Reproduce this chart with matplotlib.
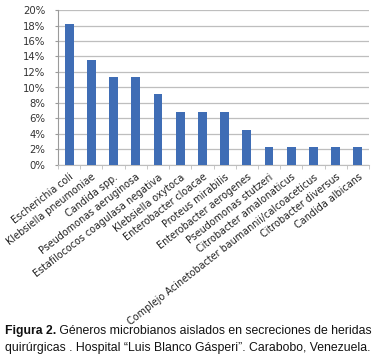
import matplotlib
matplotlib.use("Agg")
import matplotlib.pyplot as plt
from matplotlib.ticker import FuncFormatter, FixedLocator

categories = ["Escherichia coli", "Klebsiella pneumoniae", "Candida spp.",
              "Pseudomonas aeruginosa", "Estafilococos coagulasa negativa",
              "Klebsiella oxytoca", "Enterobacter cloacae", "Proteus mirabilis",
              "Enterobacter aerogenes", "Pseudomonas stutzeri",
              "Citrobacter amalonaticus",
              "Complejo Acinetobacter baumannii/calcoaceticus",
              "Citrobacter diversus", "Candida albicans"]
values = [18.2, 13.6, 11.4, 11.4, 9.1, 6.8, 6.8, 6.8, 4.5, 2.3, 2.3, 2.3, 2.3, 2.3]
yticks = [0, 2, 4, 6, 8, 10, 12, 14, 16, 18, 20]

plt.rcParams['font.family'] = ['DejaVu Sans']
W, H = 379, 359
fig = plt.figure(figsize=(W/100, H/100), dpi=100)
ax = fig.add_axes([58/W, 1-165/H, (369-58)/W, (165-10)/H])

x = list(range(len(categories)))
ax.bar(x, values, width=0.4, color='#3F6DB5', zorder=3)
ax.set_xlim(-0.5, len(categories)-0.5)
ax.set_ylim(0, 20)
ax.set_yticks(yticks)
ax.yaxis.set_major_formatter(FuncFormatter(lambda v, p: f"{int(v)}%"))
ax.grid(axis='y', color='#BEBEBE', linewidth=0.9, zorder=0)
for s in ['top', 'right']:
    ax.spines[s].set_visible(False)
ax.spines['left'].set_color('#9A9A9A')
ax.spines['bottom'].set_color('#BEBEBE')
ax.tick_params(axis='y', length=2.5, color='#9A9A9A', labelsize=7.3, pad=6.5, labelcolor='#333333')
ax.set_xticks(x)
ax.set_xticklabels(categories, rotation=38, ha='right', rotation_mode='anchor', fontsize=6.9, color='#222222')
ax.tick_params(axis='x', length=0, pad=5)
ax.xaxis.set_minor_locator(FixedLocator([i + 0.5 for i in range(-1, len(categories))]))
ax.tick_params(axis='x', which='minor', length=3, color='#BEBEBE')

cap = dict(fontsize=8.8, va='center', color='#111111', family=['Liberation Sans', 'DejaVu Sans'])
t1 = fig.text(5/W, 1-331/H, "Figura 2.", fontweight='bold', **cap)
fig.canvas.draw()
bb = t1.get_window_extent()
fig.text(bb.x1/W, 1-331/H, " Géneros microbianos aislados en secreciones de heridas", **cap)
fig.text(5/W, 1-348/H, "quirúrgicas . Hospital “Luis Blanco Gásperi”. Carabobo, Venezuela.", **cap)

fig.savefig("out.png", dpi=100)
